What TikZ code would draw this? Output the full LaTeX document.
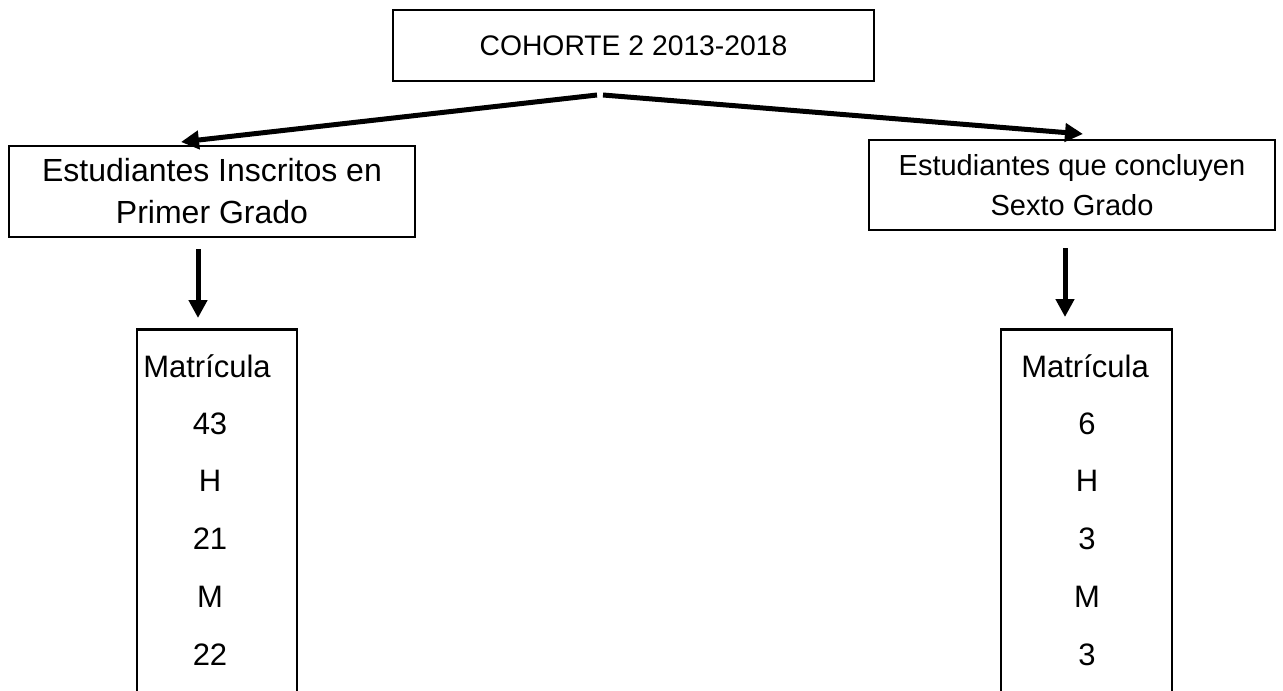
\documentclass[tikz,border=0pt]{standalone}
\usepackage{fontspec}
\setmainfont{Liberation Sans}
\usetikzlibrary{arrows.meta}
\begin{document}
\begin{tikzpicture}[x=1pt,y=-1pt,
  box/.style={draw, line width=2.5pt, inner sep=0pt, align=center},
  arr/.style={line width=5pt, -{Triangle[length=18pt,width=18pt]}},
  row/.style={inner sep=0pt, font=\fontsize{31}{36}\selectfont}]
\useasboundingbox (0,0) rectangle (1283,691);
\node[box, minimum width=481pt, minimum height=71pt, font=\fontsize{28.3}{34}\selectfont] (top) at (633.5,45.5) {COHORTE 2 2013-2018};
\node[box, minimum width=406pt, minimum height=91pt, font=\fontsize{32}{42}\selectfont] (lmid) at (212,191.5) {Estudiantes Inscritos en\\Primer Grado};
\node[box, minimum width=406pt, minimum height=90pt, font=\fontsize{29}{40}\selectfont] (rmid) at (1072,185) {Estudiantes que concluyen\\Sexto Grado};
\node[box, minimum width=160pt, minimum height=400pt, anchor=north] (lmat) at (217,328) {};
\node[box, minimum width=171pt, minimum height=400pt, anchor=north] (rmat) at (1086.5,328) {};
% rows
\node[row] (l1) at (207,366) {Matrícula};
\node[row] (l2) at (210,424) {43};
\node[row] (l3) at (210,481) {H};
\node[row] (l4) at (210,539) {21};
\node[row] (l5) at (210,597) {M};
\node[row] (l6) at (210,655) {22};
\node[row] (r1) at (1085,366) {Matrícula};
\node[row] (r2) at (1087,424) {6};
\node[row] (r3) at (1087,481) {H};
\node[row] (r4) at (1087,539) {3};
\node[row] (r5) at (1087,597) {M};
\node[row] (r6) at (1087,655) {3};
% connectors
\coordinate (ls) at (597,95);
\coordinate (rs) at (603,95);
\coordinate (lt) at (181,142);
\coordinate (rt) at (1083,134);
\draw[arr] (ls) -- (lt);
\draw[arr] (rs) -- (rt);
\draw[arr] ([xshift=-14pt,yshift=-11pt]lmid.south) -- ([xshift=-19pt,yshift=10pt]lmat.north);
\draw[arr] ([xshift=-7pt,yshift=-17pt]rmid.south) -- ([xshift=-21.5pt,yshift=11pt]rmat.north);
\end{tikzpicture}
\end{document}
